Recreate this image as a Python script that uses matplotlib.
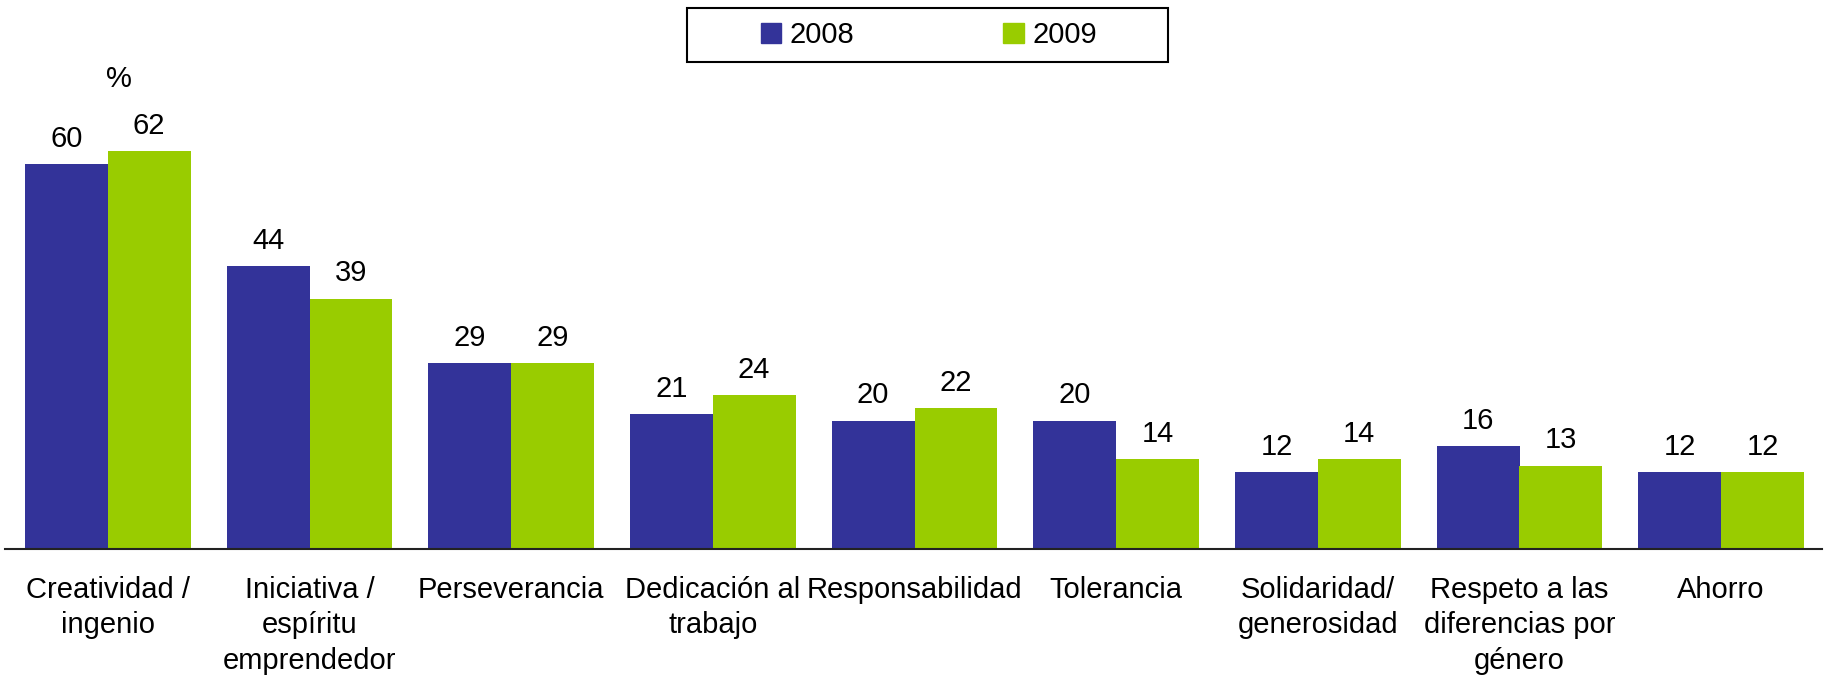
import matplotlib.pyplot as plt
from matplotlib.patches import Patch, Rectangle
import numpy as np

plt.rcParams['font.family'] = ['Liberation Sans', 'DejaVu Sans']
plt.rcParams['font.size'] = 21

categories = ['Creatividad /\ningenio', 'Iniciativa /\nespíritu\nemprendedor', 'Perseverancia',
              'Dedicación al\ntrabajo', 'Responsabilidad', 'Tolerancia',
              'Solidaridad/\ngenerosidad', 'Respeto a las\ndiferencias por\ngénero', 'Ahorro']
v2008 = [60, 44, 29, 21, 20, 20, 12, 16, 12]
v2009 = [62, 39, 29, 24, 22, 14, 14, 13, 12]
years = ['2008', '2009']
colors = ['#333399', '#99CC00']

fig = plt.figure(figsize=(18.25, 6.75), dpi=100)
ax = fig.add_axes([7/1825, 126/675, 1815/1825, 549/675])

x = np.arange(len(categories))
w = 0.41
for vals, off, c in [(v2008, -w/2, colors[0]), (v2009, w/2, colors[1])]:
    bars = ax.bar(x + off, vals, w, color=c)
    for b, v in zip(bars, vals):
        ax.annotate(str(v), (b.get_x() + b.get_width()/2, v), xytext=(0, 8),
                    textcoords='offset points', ha='center', va='bottom')

ax.set_xlim(-0.5, len(categories) - 0.5)
ax.set_ylim(0, 85.5)
ax.set_xticks(x)
ax.set_xticklabels(categories, linespacing=1.33)
ax.tick_params(axis='x', length=0, pad=19.5)
ax.set_yticks([])
for s in ['top', 'left', 'right']:
    ax.spines[s].set_visible(False)
ax.spines['bottom'].set_linewidth(1.5)
ax.spines['bottom'].set_color('#222222')
ax.spines['bottom'].set_bounds(-0.5 - 2/201.7, len(categories) - 0.5)

fig.text(119/1825, 1 - 79/675, '%', ha='center', va='center')

handles = [Patch(color=c) for c in colors]
fig.legend(handles, years, loc='center', bbox_to_anchor=(929/1825, 1 - 35/675), ncol=2,
           frameon=False, columnspacing=5.1, handlelength=0.69, handleheight=0.69,
           handletextpad=0.3)
fig.add_artist(Rectangle((687/1825, 1 - 62/675), 481/1825, 54/675, transform=fig.transFigure,
                         fill=False, edgecolor='black', linewidth=1.5))

fig.savefig('out.png', dpi=100)
